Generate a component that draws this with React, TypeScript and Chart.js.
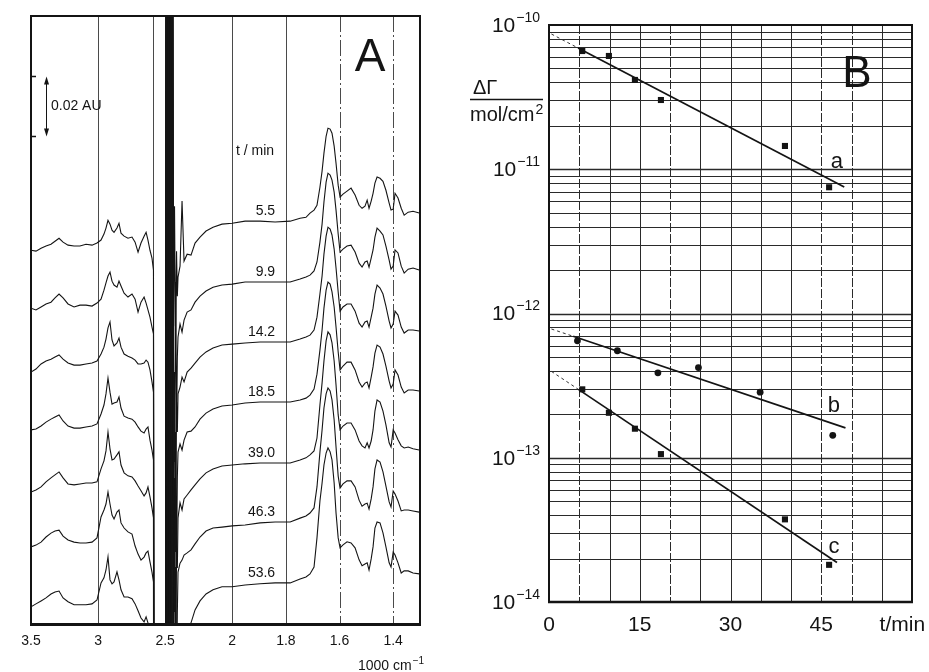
import React, { useEffect, useRef } from 'react';
import { Chart, registerables, LinearScale } from 'chart.js';

Chart.register(...registerables);

// ---------------- Panel A data (IR spectra, wavenumber in 1000 cm^-1, absorbance in mAU relative to each trace) -------------
const WAVENUMBER = [
  3.500, 3.463, 3.425, 3.388, 3.351, 3.321, 3.291, 3.261, 3.224, 3.179, 3.135, 3.090, 3.045, 3.008, 2.978, 2.956, 2.941, 2.926,
  2.911, 2.896, 2.881, 2.859, 2.844, 2.829, 2.806, 2.777, 2.747, 2.724, 2.702, 2.680, 2.657, 2.642, 2.628, 2.613, 2.598, 2.587,
  2.583, 2.497, 2.490, 2.482, 2.475, 2.467, 2.460, 2.452, 2.445, 2.437, 2.430, 2.422, 2.415, 2.409,
  2.404, 2.389, 2.374, 2.359, 2.336, 2.307, 2.277, 2.240, 2.195, 2.143, 2.076, 2.000, 1.952, 1.896, 1.840, 1.784, 1.747, 1.725,
  1.710, 1.695, 1.684, 1.673, 1.665, 1.658, 1.650, 1.643, 1.635, 1.628, 1.620, 1.613, 1.605, 1.598, 1.587, 1.572, 1.557, 1.542,
  1.527, 1.516, 1.505, 1.497, 1.490, 1.482, 1.475, 1.468, 1.460, 1.449, 1.438, 1.427, 1.415, 1.408, 1.400, 1.393, 1.382, 1.370,
  1.359, 1.344, 1.326, 1.303,
];

const ABS_5_5 = [
  -9.7, -10, -9, -8.3, -7.7, -6.7, -5.7, -7, -8, -8.3, -8.3, -7.7, -8, -7.3, -6.3, -4.3, -2.3, 0.3, -1, -3,
  -3.7, -2.3, -0.7, -4, -5, -5.7, -5.3, -7, -10.3, -7.3, -5, -3.7, -6.3, -9.7, -12.3, -16.3,
  -150, -150, 200, -150, 200, -150, 200, -150, 200, -35, 5, -45, -10, -25,
  -18.7, -15, 6.7, -13.3, -11, -11.3, -7.3, -5.3, -3.3, -2, -1, -0.7, 0, 0, -0.3, 0, 1, 1.3, 2.7, 3.7,
  5.3, 11.3, 16.7, 22.7, 28.3, 31, 30.7, 29.3, 25, 19.3, 12, 8, 9, 10, 11, 8.7, 5.3, 4.3, 5, 7,
  4.3, 6.7, 9.3, 12.7, 14.7, 14.3, 13.3, 10.3, 6, 3.7, 4, 9.3, 7.7, 4.3, 2, 3, 3.3, 2.7,
];
const ABS_9_9 = [
  -8.7, -9.3, -8.3, -7.3, -6.7, -5.3, -4, -5.3, -7.3, -8.3, -7.7, -7.7, -8, -7, -5.7, -2.7, -0.3, 2, 3.3, 0.3,
  -1, -1.7, 0.3, -1.3, -3.7, -5, -4, -5.7, -10, -6.7, -5, -7, -9.3, -11.7, -15, -17.3,
  -150, -150, 200, -150, 200, -150, 200, -150, -150, -30, -60, 0, -50, -25,
  -18.3, -14, -16.7, -12.7, -10, -9.3, -6.7, -4.7, -3, -1.7, -1, -0.7, 0, 0, 0, 0, 1, 1.7, 2.3, 3.7,
  6.7, 13.3, 19.3, 26.7, 33.3, 36.3, 35.7, 34, 30, 24, 16, 10, 11, 12, 12.3, 10, 6.3, 5, 6.7, 7,
  5, 8, 10.7, 15, 18, 17, 15.7, 12, 7.3, 4.3, 5.3, 10.7, 9.7, 5.3, 3, 4.3, 4.7, 4,
];
const ABS_14_2 = [
  -10, -9, -7.3, -6.3, -5.7, -5, -4.3, -5.7, -7, -7.7, -7.7, -7.3, -7, -6.3, -4, -1.7, 1, 4.7, 6.7, 0.7,
  -1.3, -0.3, 1.3, -1.7, -4, -4.7, -5.3, -6, -7.3, -7.3, -7, -6, -6.7, -9.3, -13.3, -16.7,
  -150, -150, 200, -150, 200, -150, 200, -150, 200, -50, -10, -70, -20, -30,
  -17.3, -15, -11.7, -13.3, -10, -8.7, -7, -5, -3.3, -2, -1, -0.7, -0.3, 0, 0, 0, 1, 1.7, 2.3, 4,
  8.3, 16, 22, 29.3, 35.3, 38.3, 37.7, 35.7, 31, 24.7, 16.7, 10.3, 11.7, 12.7, 12.7, 10.3, 6.3, 5, 6.7, 7,
  5, 8.3, 11.3, 16, 19, 18, 16, 12, 7, 4.7, 6, 10.3, 9, 5, 3, 4, 4, 3.7,
];
const ABS_18_5 = [
  -9.3, -9, -8, -6.7, -5.7, -5, -4.3, -6.3, -8, -8.7, -8.7, -8.3, -8, -7.3, -4, -1, 2.7, 8, 3.3, -0.7,
  -0.3, 0, 1.7, -2, -4.7, -5.3, -5.7, -6.7, -8.3, -9.7, -10.3, -9, -8.3, -12.7, -16, -19.3,
  -150, -150, 200, -150, 200, -150, 200, -150, -150, -20, -70, -10, -55, -25,
  -16.7, -14, -16, -12.7, -10, -9.7, -8.3, -5.7, -3.7, -2.3, -1.3, -1, -0.3, 0, 0, 0, 0.7, 1.3, 2.3, 4.3,
  9.3, 17.3, 24, 31.3, 37.3, 40, 39.3, 36.7, 31.7, 25, 16.7, 10.7, 12, 13.3, 13.3, 10.7, 6.7, 5, 6.3, 6.7,
  4.7, 8.3, 11.7, 16.3, 19, 18.3, 16, 12, 7, 4.7, 6, 10.7, 9, 5, 3, 4, 4, 3.7,
];
const ABS_39_0 = [
  -9.7, -9, -8, -6.3, -5, -4, -3, -5, -7, -7.3, -7, -6.7, -6.7, -6.3, -2, 0.7, 4, 10.3, 4.7, 1,
  1.3, 2.7, 3.7, -0.7, -3.3, -4.3, -4.7, -6, -7.7, -9.3, -11, -10, -8, -11.3, -15, -18.3,
  -150, -150, 200, -150, 200, -150, 200, -150, 200, -60, -5, -80, -30, -35,
  -18.3, -13.3, -15.7, -12, -10.7, -9, -7.3, -5.3, -3.3, -2, -1, -0.7, -0.3, 0, 0, 0, 1, 1.7, 2.7, 4,
  8.3, 19.3, 26.7, 34, 40.7, 43.7, 42.7, 40, 34, 26, 16, 11, 12.3, 13.3, 13.3, 11, 7.3, 5.7, 5, 6.7,
  5, 7.3, 11, 17.3, 21, 20.3, 17.3, 12.7, 6.7, 5.3, 11, 10, 7.7, 5.7, 5, 5.3, 4.7, 4.3,
];
const ABS_46_3 = [
  -8.3, -7.7, -6.7, -5, -3.7, -3, -2.7, -4.7, -6, -6.7, -7, -7, -6.7, -5.3, 1.7, 4, 6, 10, 6, 2.3,
  1, 3.3, 4, -0.3, -2, -3.3, -4, -8, -10.7, -12.7, -11.7, -10.3, -9.7, -13.3, -16.7, -20,
  -150, -150, 200, -150, 200, -150, 200, -150, -150, -40, -80, -15, -60, -30,
  -16.7, -13.7, -12.7, -11, -10.3, -9.3, -7.3, -5, -3, -2, -1.7, -1.3, -1, -0.3, 0, 0, 1.3, 2, 3, 4.7,
  11.7, 23.3, 30.7, 38, 42.7, 44.7, 43.7, 40.7, 34, 25, 15.3, 11.3, 12.7, 13.7, 13.7, 11.7, 7.3, 5.3, 6, 6.3,
  4.3, 7.7, 11.7, 17.7, 20.7, 20, 16.7, 12, 6.7, 5, 10.3, 9.3, 7, 3.7, 4, 4, 3.7, 3.3,
];
const ABS_53_6 = [
  -8, -7, -6, -5, -3.7, -3, -2.7, -5, -6.3, -7.3, -7.3, -7.3, -7, -5.7, 0, 1.7, 4.3, 8.7, 1, -0.3,
  0.3, 3.7, 1, -2.3, -4.7, -4.7, -5.3, -7, -9.3, -11.7, -13, -11.3, -13.3, -15.7, -18.3, -21.7,
  -150, -150, 200, -150, 200, -150, 200, -150, 200, -70, -20, -150, -40, -150,
  -20, -18.3, -16.7, -16, -15, -13.3, -9, -6, -3.7, -2.3, -1.3, -1.3, -0.7, -0.3, 0, 0, 1.3, 2, 3, 5.3,
  15, 27.3, 33.3, 39.3, 43.3, 45, 43.7, 41, 33.3, 23.3, 15, 11.7, 12.7, 13.7, 13.3, 11.7, 7.7, 5.7, 6.3, 6.7,
  4.3, 8, 12, 18.3, 20.3, 20, 16.7, 12, 6.7, 5.3, 10.3, 9.3, 6.7, 3.3, 4, 4, 3.3, 3,
];

const SPECTRA = [ABS_5_5, ABS_9_9, ABS_14_2, ABS_18_5, ABS_39_0, ABS_46_3, ABS_53_6];
const TIME_LABELS = ['5.5', '9.9', '14.2', '18.5', '39.0', '46.3', '53.6'];
const STACK_OFFSET = [134.3, 114, 94, 74, 53.7, 34, 13.7]; // mAU, vertical offset for clarity

const A_TICKS = [3.5, 3, 2.5, 2, 1.8, 1.6, 1.4];
const A_TICK_LABELS = ['3.5', '3', '2.5', '2', '1.8', '1.6', '1.4'];
const A_GRID_SOLID = [3, 2.587, 2.5, 2, 1.8];
const A_GRID_DASHED = [1.6, 1.4];

// ---------------- Panel B data -------------
const T_A = [5.5, 9.9, 14.2, 18.5, 39.0, 46.3];
const GAMMA_A = [6.6e-11, 6.1e-11, 4.16e-11, 3.02e-11, 1.45e-11, 7.5e-12];
const T_B = [4.7, 11.3, 18.0, 24.7, 34.9, 46.9];
const GAMMA_B = [6.47e-13, 5.52e-13, 3.88e-13, 4.22e-13, 2.85e-13, 1.43e-13];
const T_C = [5.5, 9.9, 14.2, 18.5, 39.0, 46.3];
const GAMMA_C = [2.98e-13, 2.05e-13, 1.59e-13, 1.06e-13, 3.74e-14, 1.81e-14];

const FIT_A_T = [4.8, 48.8];
const FIT_A = [6.93e-11, 7.53e-12];
const EXT_A_T = [0.4, 4.8];
const EXT_A = [8.66e-11, 6.93e-11];
const FIT_B_T = [4.0, 49.0];
const FIT_B = [6.95e-13, 1.61e-13];
const EXT_B_T = [0.4, 4.0];
const EXT_B = [7.81e-13, 6.95e-13];
const FIT_C_T = [4.85, 47.6];
const FIT_C = [2.98e-13, 1.88e-14];
const EXT_C_T = [0.4, 4.85];
const EXT_C = [3.97e-13, 2.98e-13];

const B_X_TICKS = [0, 15, 30, 45];
const B_X_GRID = [5, 10, 15, 20, 25, 30, 35, 40, 45, 50, 55];
const B_X_GRID_DASHED = [5, 20, 45, 50];
const B_DECADES = [-10, -11, -12, -13, -14];

const FONT = '"Liberation Sans Narrow", "Liberation Sans", Arial, sans-serif';
const INK = '#141414';

// Broken wavenumber axis: linear 3.5 -> 2, then doubled scale 2 -> 1.3
const X_START = 3.5;
const X_BREAK = 2;
const X_END = 1.3;
const STRETCH = 2;
const SPAN = X_START - X_BREAK + STRETCH * (X_BREAK - X_END);

class WavenumberScale extends LinearScale {
  static id = 'wavenumber';
  static defaults = {};
  getPixelForValue(value: any) {
    const v = Number(value);
    const u = v >= X_BREAK ? X_START - v : X_START - X_BREAK + STRETCH * (X_BREAK - v);
    return (this as any).left + (u / SPAN) * (this as any).width;
  }
  getValueForPixel(pixel: number) {
    const u = ((pixel - (this as any).left) / (this as any).width) * SPAN;
    return u <= X_START - X_BREAK ? X_START - u : X_BREAK - (u - (X_START - X_BREAK)) / STRETCH;
  }
}
Chart.register(WavenumberScale as any);

function pts(xs: number[], ys: number[]) {
  return xs.map((x, i) => ({ x, y: ys[i] }));
}

const panelAPlugin = {
  id: 'panelA',
  beforeDatasetsDraw(chart: any) {
    const { ctx, chartArea: ca, scales } = chart;
    const x = scales.x;
    ctx.save();
    ctx.strokeStyle = '#4a4a4a';
    ctx.lineWidth = 1;
    for (const g of A_GRID_SOLID) {
      const px = Math.round(x.getPixelForValue(g)) + 0.5;
      ctx.setLineDash([]);
      ctx.beginPath();
      ctx.moveTo(px, ca.top);
      ctx.lineTo(px, ca.bottom);
      ctx.stroke();
    }
    for (const g of A_GRID_DASHED) {
      const px = Math.round(x.getPixelForValue(g)) + 0.5;
      ctx.setLineDash([16, 3, 2, 3]);
      ctx.beginPath();
      ctx.moveTo(px, ca.top);
      ctx.lineTo(px, ca.bottom);
      ctx.stroke();
    }
    ctx.restore();
  },
  afterDatasetsDraw(chart: any) {
    const { ctx, chartArea: ca, scales } = chart;
    const x = scales.x;
    const y = scales.y;
    ctx.save();
    // frame
    ctx.strokeStyle = INK;
    ctx.lineWidth = 2;
    ctx.strokeRect(ca.left, ca.top, ca.right - ca.left, ca.bottom - ca.top);
    ctx.lineWidth = 3;
    ctx.beginPath();
    ctx.moveTo(ca.left - 1, ca.bottom + 0.5);
    ctx.lineTo(ca.right + 1, ca.bottom + 0.5);
    ctx.stroke();

    ctx.fillStyle = INK;
    // tick labels
    ctx.font = `14px ${FONT}`;
    ctx.textAlign = 'center';
    ctx.textBaseline = 'middle';
    A_TICKS.forEach((t, i) => {
      ctx.fillText(A_TICK_LABELS[i], x.getPixelForValue(t), ca.bottom + 17);
    });
    // unit
    ctx.textAlign = 'left';
    ctx.fillText('1000 cm', ca.right - 62, ca.bottom + 42);
    const w1 = ctx.measureText('1000 cm').width;
    ctx.font = `10px ${FONT}`;
    ctx.fillText('\u22121', ca.right - 62 + w1 + 1, ca.bottom + 37);

    // time labels
    ctx.font = `14px ${FONT}`;
    ctx.textAlign = 'right';
    TIME_LABELS.forEach((lab, k) => {
      ctx.fillText(lab, x.getPixelForValue(1.84), y.getPixelForValue(STACK_OFFSET[k] + 3.3));
    });
    ctx.textAlign = 'center';
    ctx.fillText('t / min', x.getPixelForValue(1.915), y.getPixelForValue(157.7));

    // scale bar 0.02 AU = 20 mAU
    const bx = Math.round(x.getPixelForValue(3.388)) + 0.5;
    const yTop = y.getPixelForValue(182.5);
    const yBot = y.getPixelForValue(162.5);
    ctx.lineWidth = 1;
    ctx.beginPath();
    ctx.moveTo(bx, yTop + 5);
    ctx.lineTo(bx, yBot - 5);
    ctx.stroke();
    ctx.beginPath();
    ctx.moveTo(bx, yTop);
    ctx.lineTo(bx - 2.5, yTop + 8);
    ctx.lineTo(bx + 2.5, yTop + 8);
    ctx.closePath();
    ctx.fill();
    ctx.beginPath();
    ctx.moveTo(bx, yBot);
    ctx.lineTo(bx - 2.5, yBot - 8);
    ctx.lineTo(bx + 2.5, yBot - 8);
    ctx.closePath();
    ctx.fill();
    ctx.lineWidth = 1.5;
    ctx.beginPath();
    ctx.moveTo(ca.left, yTop);
    ctx.lineTo(ca.left + 5, yTop);
    ctx.moveTo(ca.left, yBot);
    ctx.lineTo(ca.left + 5, yBot);
    ctx.stroke();
    ctx.textAlign = 'left';
    ctx.fillText('0.02 AU', x.getPixelForValue(3.351), y.getPixelForValue(172.5));

    // panel letter
    ctx.font = `46px ${FONT}`;
    ctx.textAlign = 'center';
    ctx.fillText('A', x.getPixelForValue(1.486), y.getPixelForValue(188.7));
    ctx.restore();
  },
};

const panelBPlugin = {
  id: 'panelB',
  beforeDatasetsDraw(chart: any) {
    const { ctx, chartArea: ca, scales } = chart;
    const x = scales.x;
    const y = scales.y;
    ctx.save();
    ctx.strokeStyle = '#2a2a2a';
    ctx.lineWidth = 1;
    for (const t of B_X_GRID) {
      const px = Math.round(x.getPixelForValue(t)) + 0.5;
      ctx.setLineDash(B_X_GRID_DASHED.includes(t) ? [9, 2] : []);
      ctx.beginPath();
      ctx.moveTo(px, ca.top);
      ctx.lineTo(px, ca.bottom);
      ctx.stroke();
    }
    ctx.setLineDash([]);
    for (let e = -14; e < -10; e++) {
      for (let m = 1; m <= 9; m++) {
        const v = m * Math.pow(10, e);
        if (v <= 1e-14) continue;
        const py = Math.round(y.getPixelForValue(v)) + 0.5;
        ctx.lineWidth = m === 1 ? 1.4 : 1;
        ctx.beginPath();
        ctx.moveTo(ca.left, py);
        ctx.lineTo(ca.right, py);
        ctx.stroke();
      }
    }
    ctx.restore();
  },
  afterDatasetsDraw(chart: any) {
    const { ctx, chartArea: ca, scales } = chart;
    const x = scales.x;
    const y = scales.y;
    ctx.save();
    ctx.strokeStyle = INK;
    ctx.lineWidth = 2;
    ctx.strokeRect(ca.left, ca.top, ca.right - ca.left, ca.bottom - ca.top);
    ctx.lineWidth = 2.5;
    ctx.beginPath();
    ctx.moveTo(ca.left - 1, ca.bottom);
    ctx.lineTo(ca.right + 1, ca.bottom);
    ctx.stroke();

    ctx.fillStyle = INK;
    ctx.textBaseline = 'middle';
    // y tick labels 10^n
    for (const e of B_DECADES) {
      const py = y.getPixelForValue(Math.pow(10, e));
      ctx.font = `14px ${FONT}`;
      ctx.textAlign = 'right';
      const sup = '\u2212' + String(-e);
      ctx.fillText(sup, ca.left - 9, py - 7);
      const sw = ctx.measureText(sup).width;
      ctx.font = `21px ${FONT}`;
      ctx.fillText('10', ca.left - 10 - sw, py + 1);
    }
    // x tick labels
    ctx.font = `21px ${FONT}`;
    ctx.textAlign = 'center';
    for (const t of B_X_TICKS) {
      ctx.fillText(String(t), x.getPixelForValue(t), ca.bottom + 23);
    }
    ctx.fillText('t/min', x.getPixelForValue(58.4), ca.bottom + 23);

    // y title
    ctx.textAlign = 'left';
    ctx.font = `20px ${FONT}`;
    ctx.fillText('\u0394\u0393', ca.left - 76, 88);
    ctx.lineWidth = 1.5;
    ctx.beginPath();
    ctx.moveTo(ca.left - 79, 99.5);
    ctx.lineTo(ca.left - 6, 99.5);
    ctx.stroke();
    ctx.fillText('mol/cm', ca.left - 79, 115);
    const mw = ctx.measureText('mol/cm').width;
    ctx.font = `14px ${FONT}`;
    ctx.fillText('2', ca.left - 79 + mw + 1, 110);

    // letters
    ctx.font = `44px ${FONT}`;
    ctx.textAlign = 'center';
    ctx.fillText('B', x.getPixelForValue(50.9), y.getPixelForValue(4.5e-11));
    ctx.font = `22px ${FONT}`;
    ctx.fillText('a', x.getPixelForValue(47.6), y.getPixelForValue(1.12e-11));
    ctx.fillText('b', x.getPixelForValue(47.1), y.getPixelForValue(2.27e-13));
    ctx.fillText('c', x.getPixelForValue(47.1), y.getPixelForValue(2.4e-14));
    ctx.restore();
  },
};

function makeConfigA(): any {
  return {
    type: 'line',
    data: {
      datasets: SPECTRA.map((abs, k) => ({
        label: TIME_LABELS[k] + ' min',
        data: WAVENUMBER.map((w, i) => ({ x: w, y: STACK_OFFSET[k] + abs[i] })),
        borderColor: INK,
        borderWidth: 1.1,
        pointRadius: 0,
        tension: 0,
        fill: false,
      })),
    },
    options: {
      responsive: false,
      animation: false,
      events: [],
      layout: { padding: { left: 31, top: 16, right: 929 - 420, bottom: 672 - 624 } },
      plugins: { legend: { display: false }, tooltip: { enabled: false } },
      scales: {
        x: { type: 'wavenumber', min: X_END, max: X_START, display: false },
        y: { type: 'linear', min: 0, max: 202.7, display: false },
      },
    },
    plugins: [panelAPlugin],
  };
}

function makeConfigB(): any {
  const markers = (xs: number[], ys: number[], style: string, r: number, label: string) => ({
    label,
    data: pts(xs, ys),
    showLine: false,
    pointStyle: style,
    pointRadius: r,
    pointBackgroundColor: INK,
    pointBorderColor: INK,
    pointBorderWidth: 0,
    borderColor: INK,
  });
  const fit = (xs: number[], ys: number[], label: string) => ({
    label,
    data: pts(xs, ys),
    borderColor: INK,
    borderWidth: 1.7,
    pointRadius: 0,
    tension: 0,
  });
  const ext = (xs: number[], ys: number[], label: string) => ({
    label,
    data: pts(xs, ys),
    borderColor: '#333',
    borderWidth: 1,
    borderDash: [3, 3],
    pointRadius: 0,
    tension: 0,
  });
  return {
    type: 'line',
    data: {
      datasets: [
        fit(FIT_A_T, FIT_A, 'fit a'),
        ext(EXT_A_T, EXT_A, 'ext a'),
        fit(FIT_B_T, FIT_B, 'fit b'),
        ext(EXT_B_T, EXT_B, 'ext b'),
        fit(FIT_C_T, FIT_C, 'fit c'),
        ext(EXT_C_T, EXT_C, 'ext c'),
        markers(T_A, GAMMA_A, 'rect', 4.3, 'a'),
        markers(T_B, GAMMA_B, 'circle', 3.4, 'b'),
        markers(T_C, GAMMA_C, 'rect', 4.3, 'c'),
      ],
    },
    options: {
      responsive: false,
      animation: false,
      events: [],
      layout: { padding: { left: 549, top: 25, right: 929 - 912, bottom: 672 - 602 } },
      plugins: { legend: { display: false }, tooltip: { enabled: false } },
      scales: {
        x: { type: 'linear', min: 0, max: 60, display: false },
        y: { type: 'logarithmic', min: 1e-14, max: 1e-10, display: false },
      },
    },
    plugins: [panelBPlugin],
  };
}

export default function App() {
  const refA = useRef<HTMLCanvasElement>(null);
  const refB = useRef<HTMLCanvasElement>(null);
  useEffect(() => {
    const a = new Chart(refA.current as HTMLCanvasElement, makeConfigA());
    const b = new Chart(refB.current as HTMLCanvasElement, makeConfigB());
    return () => {
      a.destroy();
      b.destroy();
    };
  }, []);
  return (
    <div style={{ position: 'fixed', left: 0, top: 0, width: 929, height: 672, background: '#fff', overflow: 'hidden' }}>
      <canvas ref={refA} width={929} height={672} style={{ position: 'absolute', left: 0, top: 0 }} />
      <canvas ref={refB} width={929} height={672} style={{ position: 'absolute', left: 0, top: 0 }} />
    </div>
  );
}
